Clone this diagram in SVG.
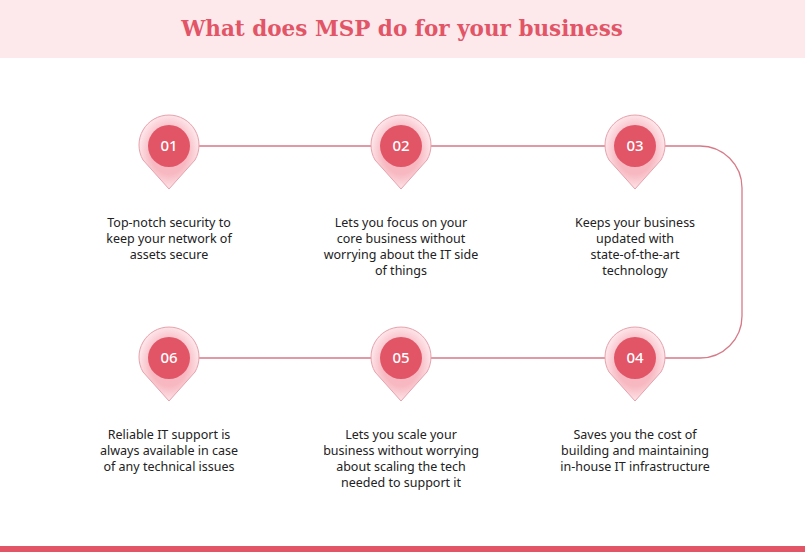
<svg xmlns="http://www.w3.org/2000/svg" width="805" height="552" viewBox="0 0 805 552">
<defs>
<radialGradient id="g" cx="50%" cy="50%" r="50%"><stop offset="60%" stop-color="#f7b8c1"/><stop offset="100%" stop-color="#fde4e8"/></radialGradient>
<g id="pin"><path d="M-26,14 A30,30 0 1 1 26,14 L0,43 Z" fill="url(#g)" stroke="#e6a2ac" stroke-width="1"/><circle r="21" fill="#e25567"/></g>
</defs>
<style>
.num{font-family:"Noto Sans",sans-serif;font-size:15px;font-weight:500;fill:#fff;text-anchor:middle}
.t{font-family:"Noto Sans",sans-serif;font-size:12.5px;fill:#222;text-anchor:middle}
.ln{fill:none;stroke:#d77a88;stroke-width:1.3}
</style>
<rect width="805" height="552" fill="#fff"/>
<rect width="805" height="58" fill="#fde9ec"/>
<text x="402" y="36" font-family="DejaVu Serif,serif" font-weight="bold" font-size="21.5" fill="#e25567" text-anchor="middle">What does MSP do for your business</text>
<rect y="546" width="805" height="6" fill="#e25567"/>
<g id="connectors">
<path class="ln" d="M199,146 H605 M665,146 H700 A42,42 0 0 1 742,188 V316 A42,42 0 0 1 700,358 H665 M199,358 H605"/>
</g>
<g id="n01"><use href="#pin" x="169" y="146"/><text class="num" x="169" y="151">01</text>
<text class="t" x="169" y="227">Top-notch security to</text><text class="t" x="169" y="243">keep your network of</text><text class="t" x="169" y="259">assets secure</text></g>
<g id="n02"><use href="#pin" x="401" y="146"/><text class="num" x="401" y="151">02</text>
<text class="t" x="401" y="227">Lets you focus on your</text><text class="t" x="401" y="243">core business without</text><text class="t" x="401" y="259">worrying about the IT side</text><text class="t" x="401" y="275">of things</text></g>
<g id="n03"><use href="#pin" x="635" y="146"/><text class="num" x="635" y="151">03</text>
<text class="t" x="635" y="227">Keeps your business</text><text class="t" x="635" y="243">updated with</text><text class="t" x="635" y="259">state-of-the-art</text><text class="t" x="635" y="275">technology</text></g>
<g id="n04"><use href="#pin" x="635" y="358"/><text class="num" x="635" y="363">04</text>
<text class="t" x="635" y="439">Saves you the cost of</text><text class="t" x="635" y="455">building and maintaining</text><text class="t" x="635" y="471">in-house IT infrastructure</text></g>
<g id="n05"><use href="#pin" x="401" y="358"/><text class="num" x="401" y="363">05</text>
<text class="t" x="401" y="439">Lets you scale your</text><text class="t" x="401" y="455">business without worrying</text><text class="t" x="401" y="471">about scaling the tech</text><text class="t" x="401" y="487">needed to support it</text></g>
<g id="n06"><use href="#pin" x="169" y="358"/><text class="num" x="169" y="363">06</text>
<text class="t" x="169" y="439">Reliable IT support is</text><text class="t" x="169" y="455">always available in case</text><text class="t" x="169" y="471">of any technical issues</text></g>
</svg>
